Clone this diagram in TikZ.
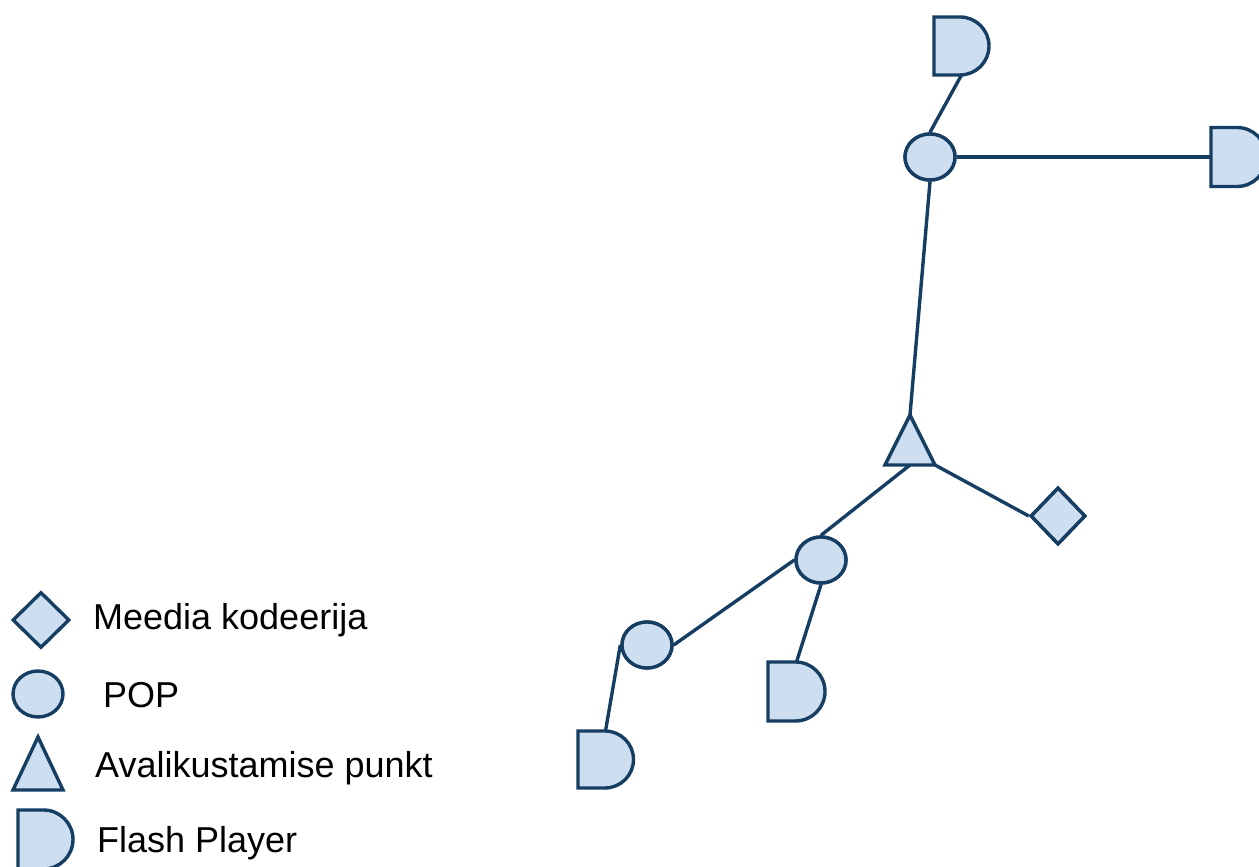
\documentclass[tikz,border=0pt]{standalone}
\usepackage{fontspec}
\setmainfont{Liberation Sans}
\usetikzlibrary{shapes.geometric}
\definecolor{shapefill}{RGB}{205,222,240}
\definecolor{shapeline}{RGB}{22,62,98}
\tikzset{
  base/.style={draw=shapeline, fill=shapefill, line width=3.4pt, line join=miter},
  pop/.style={ellipse, base, minimum width=50pt, minimum height=46pt, inner sep=0pt},
  enc/.style={diamond, base, inner sep=0pt},
  holder/.style={rectangle, inner sep=0pt, outer sep=0pt},
  link/.style={draw=shapeline, line width=3.4pt},
  legtext/.style={anchor=base west, inner sep=0pt, font=\fontsize{36}{40}\selectfont}
}
\newcommand{\drawD}[3]{\draw[base] (#1.north west) -- ++(#2pt,0) arc[start angle=90, end angle=-90, radius=#3pt] -- (#1.south west) -- cycle;}
\newcommand{\drawT}[1]{\draw[base] (#1.north) -- (#1.south east) -- (#1.south west) -- cycle;}
\begin{document}
\begin{tikzpicture}[x=1pt,y=1pt]
\useasboundingbox (0,0) rectangle (1259,867);
% placeholders
\node[holder, minimum width=55pt, minimum height=58pt] (d1) at (961.5,821) {};
\node[holder, minimum width=55pt, minimum height=59pt] (d2) at (1238.5,710) {};
\node[holder, minimum width=57pt, minimum height=59pt] (d3) at (796.5,175.5) {};
\node[holder, minimum width=55pt, minimum height=57pt] (d4) at (605.5,107.5) {};
\node[holder, minimum width=50pt, minimum height=50pt] (t) at (910,427) {};
\node[holder, minimum width=50pt, minimum height=53pt] (lt) at (38,103.5) {};
\node[holder, minimum width=55pt, minimum height=59pt] (ld) at (45.5,27.5) {};
% connectors first
\node[pop] (c1) at (930,710) {};
\node[pop] (c2) at (821,307) {};
\node[pop] (c3) at (647,222) {};
\node[enc, minimum width=55pt, minimum height=57pt] (dia) at (1058,351) {};
\path[link] (d1.south) -- (c1.north);
\path[link] (c1.east) -- (d2.west);
\path[link] (c1.south) -- (t.north);
\path[link] (t.south east) -- (dia.west);
\path[link] (t.south) -- (c2.north);
\path[link] (c2.west) -- (c3.east);
\path[link] (c2.south) -- (d3.north);
\path[link] (c3.west) -- (d4.north);
% shapes on top
\node[pop] at (c1) {};
\node[pop] at (c2) {};
\node[pop] at (c3) {};
\node[enc, minimum width=55pt, minimum height=57pt] at (dia) {};
\drawD{d1}{26}{29}
\drawD{d2}{26}{29.5}
\drawD{d3}{27.5}{29.5}
\drawD{d4}{27}{28.5}
\drawT{t}
% legend
\node[enc, minimum width=57pt, minimum height=56pt] (ldia) at (41,247) {};
\node[pop] (lc) at (38,173) {};
\drawT{lt}
\drawD{ld}{25.5}{29.5}
\node[legtext] (l1) at (93,237) {Meedia kodeerija};
\node[legtext] (l2) at (103,159) {POP};
\node[legtext] (l3) at (95,89) {Avalikustamise punkt};
\node[legtext] (l4) at (97,14) {Flash Player};
\end{tikzpicture}
\end{document}
